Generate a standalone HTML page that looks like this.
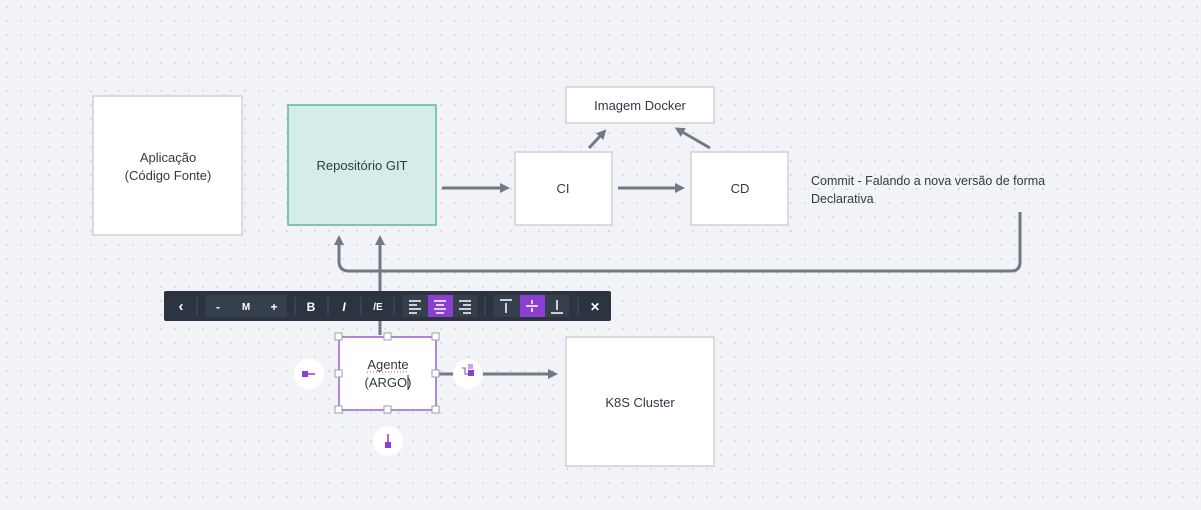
<!DOCTYPE html>
<html><head><meta charset="utf-8"><style>
body{margin:0;width:1201px;height:505px;overflow:hidden;background:#f2f3f6;font-family:"Liberation Sans",sans-serif}
svg text{font-family:"Liberation Sans",sans-serif}
</style></head><body>
<svg width="1201" height="505" xmlns="http://www.w3.org/2000/svg">
<defs>
<pattern id="d" width="14" height="14" patternUnits="userSpaceOnUse"><circle cx="7" cy="7" r="0.9" fill="#c6cbd3"/></pattern>
<marker id="a" markerWidth="10" markerHeight="10" refX="5" refY="5" orient="auto" markerUnits="userSpaceOnUse"><path d="M0,0 L10,5 L0,10 z" fill="#707a85"/></marker>
</defs>
<rect width="1201" height="505" fill="url(#d)"/>
<g stroke="#707a85" stroke-width="3" fill="none">
<line x1="442" y1="188" x2="505" y2="188" marker-end="url(#a)"/>
<line x1="618" y1="188" x2="680" y2="188" marker-end="url(#a)"/>
<line x1="589" y1="148" x2="603" y2="133" marker-end="url(#a)"/>
<line x1="710" y1="148" x2="679" y2="130" marker-end="url(#a)"/>
<path d="M1020 212 V262 Q1020 271 1011 271 H349 Q339 271 339 261 V240" marker-end="url(#a)"/>
<line x1="380" y1="335" x2="380" y2="240" marker-end="url(#a)"/>
<line x1="437" y1="374" x2="553" y2="374" marker-end="url(#a)"/>
</g>
<g stroke="#cdd2d8" stroke-width="1.5" fill="#fff">
<rect x="93" y="96" width="149" height="139"/>
<rect x="566" y="87" width="148" height="36"/>
<rect x="515" y="152" width="97" height="73"/>
<rect x="691" y="152" width="97" height="73"/>
<rect x="566" y="337" width="148" height="129"/>
</g>
<rect x="288" y="105" width="148" height="120" fill="#d4ede9" stroke="#5fb3a5" stroke-width="1.5"/>
<rect x="339" y="337" width="97" height="73" fill="#fff" stroke="#9c5fd6" stroke-width="1.5"/>
<g fill="#fff" stroke="#9aa0a8">
<rect x="335" y="333" width="7" height="7"/><rect x="384" y="333" width="7" height="7"/><rect x="432" y="333" width="7" height="7"/>
<rect x="335" y="370" width="7" height="7"/><rect x="432" y="370" width="7" height="7"/>
<rect x="335" y="406" width="7" height="7"/><rect x="384" y="406" width="7" height="7"/><rect x="432" y="406" width="7" height="7"/>
</g>
<g fill="#fff"><circle cx="309" cy="374" r="15"/><circle cx="468" cy="374" r="15"/><circle cx="388" cy="441" r="15"/></g>
<rect x="302" y="371" width="6" height="6" fill="#8a3fd1"/><line x1="308" y1="374" x2="315" y2="374" stroke="#8a3fd1" stroke-width="1.5"/>
<rect x="468" y="370" width="6" height="6" fill="#8a3fd1"/><rect x="468" y="364" width="5" height="5" fill="#c9a5ec"/><path d="M462 368 H465 V374 H468" stroke="#8a3fd1" fill="none"/>
<rect x="385" y="442" width="6" height="6" fill="#8a3fd1"/><line x1="388" y1="434" x2="388" y2="442" stroke="#8a3fd1" stroke-width="1.5"/>
<g font-size="13" text-anchor="middle" fill="#2f3a45">
<text x="168" y="162">Aplicação</text><text x="168" y="180">(Código Fonte)</text>
<text x="362" y="170">Repositório GIT</text>
<text x="640" y="110">Imagem Docker</text>
<text x="563" y="193">CI</text>
<text x="740" y="193">CD</text>
<text x="640" y="407">K8S Cluster</text>
<text x="388" y="369">Agente</text><text x="388" y="387">(ARGO)</text>
</g>
<line x1="367" y1="372" x2="408" y2="372" stroke="#d46" stroke-dasharray="1 2"/>
<line x1="408" y1="375" x2="408" y2="390" stroke="#333"/>
<g fill="#2f3a45"><text x="811" y="185" font-size="12.5">Commit - Falando a nova versão de forma</text>
<text x="811" y="203" font-size="12.5">Declarativa</text></g>
<rect x="164" y="291" width="447" height="30" rx="2" fill="#2b3440"/>
<rect x="206" y="295" width="81" height="22" fill="#36404c"/>
<rect x="403" y="295" width="74" height="22" fill="#36404c"/>
<rect x="494" y="295" width="75" height="22" fill="#36404c"/>
<rect x="428" y="295" width="25" height="22" fill="#8a3fd1"/>
<rect x="520" y="295" width="25" height="22" fill="#8a3fd1"/>
<g stroke="#4a5460"><line x1="197" y1="297" x2="197" y2="315"/><line x1="295" y1="297" x2="295" y2="315"/><line x1="328" y1="297" x2="328" y2="315"/><line x1="361" y1="297" x2="361" y2="315"/><line x1="394" y1="297" x2="394" y2="315"/><line x1="485" y1="297" x2="485" y2="315"/><line x1="578" y1="297" x2="578" y2="315"/></g>
<g fill="#ffffff" font-size="12" font-weight="bold" text-anchor="middle">
<text x="181" y="311" font-size="15">‹</text><text x="218" y="311">-</text><text x="246" y="310" font-size="10">M</text><text x="274" y="311">+</text>
<text x="311" y="311">B</text><text x="344" y="311" font-style="italic">I</text><text x="378" y="310" font-size="10">/E</text>
<text x="595" y="311">✕</text>
</g>
<g stroke="#fff" stroke-width="1.5">
<path d="M409 301h12M409 305h8M409 309h12M409 313h8"/>
<path d="M434 301h12M436 305h8M434 309h12M436 313h8"/>
<path d="M459 301h12M463 305h8M459 309h12M463 313h8"/>
<path d="M500 300h12M506 303v10"/><path d="M526 306h12M532 300v4M532 308v4"/><path d="M551 313h12M557 300v10"/>
</g>
</svg>
</body></html>
